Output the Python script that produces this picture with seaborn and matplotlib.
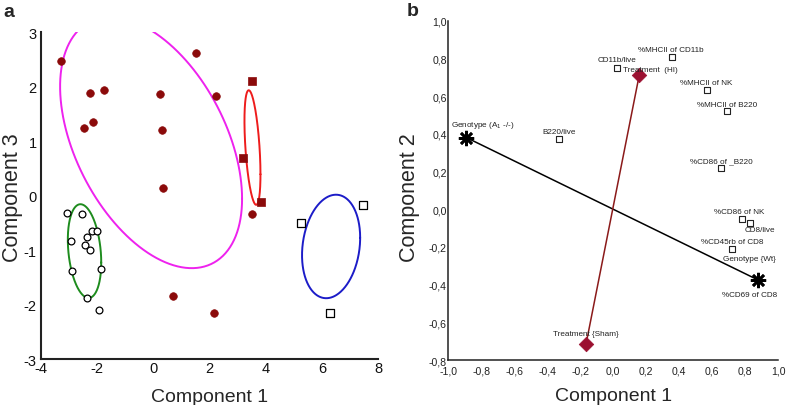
import numpy as np
import pandas as pd
import matplotlib
matplotlib.use("Agg")
import matplotlib.pyplot as plt
import seaborn as sns

# ---------------- DATA ----------------
# Panel a: scores (Component 1, Component 3)
red_circ_x = [-3.29, -2.26, -1.76, -2.47, -2.14, 0.23, 0.31, 0.35, 1.53, 2.22, 3.53, 0.71, 2.17]
red_circ_y = [2.47, 1.89, 1.94, 1.24, 1.34, 1.86, 1.21, 0.14, 2.62, 1.83, -0.34, -1.84, -2.15]
red_sq_x = [3.52, 3.21, 3.83]
red_sq_y = [2.10, 0.69, -0.12]
open_circ_x = [-3.06, -2.55, -2.94, -2.36, -2.20, -2.00, -2.43, -2.27, -2.90, -1.88, -2.36, -1.94]
open_circ_y = [-0.32, -0.34, -0.83, -0.76, -0.66, -0.65, -0.91, -1.00, -1.39, -1.35, -1.88, -2.10]
open_sq_x = [5.25, 7.47, 6.28]
open_sq_y = [-0.50, -0.17, -2.16]

# group ellipses: centre, conjugate half-axes
ell_cx = [-0.08, 3.53, -2.45, 6.33]
ell_cy = [0.97, 0.88, -1.02, -0.935]
ell_ux = [3.24, 0.285, 0.595, 1.035]
ell_uy = [-1.03, -0.49, -0.21, 0.16]
ell_h = [2.06, 0.93, 0.834, 0.936]

a_xticks = [-4, -2, 0, 2, 4, 6, 8]
a_yticks = [-3, -2, -1, 0, 1, 2, 3]

# Panel b: loadings (Component 1, Component 2)
var_names = ["CD11b/live", "%MHCII of CD11b", "%MHCII of NK", "%MHCII of B220", "B220/live",
             "%CD86 of _B220", "%CD86 of NK", "CD8/live", "%CD45rb of CD8", "%CD69 of CD8"]
var_x = [0.02, 0.354, 0.568, 0.689, -0.331, 0.653, 0.78, 0.828, 0.72, 0.879]
var_y = [0.749, 0.807, 0.634, 0.519, 0.371, 0.22, -0.053, -0.075, -0.211, -0.376]

geno_names = ["Genotype (A$_1$ -/-)", "Genotype {Wt}"]
geno_x = [-0.89, 0.879]
geno_y = [0.38, -0.376]

treat_names = ["Treatment  (HI)", "Treatment {Sham}"]
treat_x = [0.158, -0.165]
treat_y = [0.714, -0.715]

b_ticks_x = [-1.0, -0.8, -0.6, -0.4, -0.2, 0.0, 0.2, 0.4, 0.6, 0.8, 1.0]
b_ticks_y = [-0.8, -0.6, -0.4, -0.2, 0.0, 0.2, 0.4, 0.6, 0.8, 1.0]

# ---------------- STYLE ----------------
sns.set_style("white")
plt.rcParams["font.family"] = ["Liberation Sans", "DejaVu Sans"]
plt.rcParams["mathtext.fontset"] = "custom"
plt.rcParams["mathtext.rm"] = "Liberation Sans"
plt.rcParams["axes.unicode_minus"] = False

DARKRED = "#8b0a0a"
ell_colors = ["#ee22ee", "#ee1c1c", "#1e8c1e", "#1c1cc8"]

fig = plt.figure(figsize=(7.87, 4.06), dpi=100)

# ---------------- PANEL A ----------------
axa = fig.add_axes([0.0521, 0.1133, 0.4282, 0.8054])

t = np.linspace(0, 2 * np.pi, 400)
for cx, cy, ux, uy, h, c in zip(ell_cx, ell_cy, ell_ux, ell_uy, ell_h, ell_colors):
    ex = cx + ux * np.cos(t)
    ey = cy + uy * np.cos(t) + h * np.sin(t)
    axa.plot(ex, ey, color=c, lw=1.4, zorder=2)

sns.scatterplot(x=red_circ_x, y=red_circ_y, ax=axa, marker="o", s=30,
                color=DARKRED, edgecolor=DARKRED, linewidth=0.5, zorder=3)
sns.scatterplot(x=red_sq_x, y=red_sq_y, ax=axa, marker="s", s=30,
                color=DARKRED, edgecolor=DARKRED, linewidth=0.5, zorder=3)
sns.scatterplot(x=open_circ_x, y=open_circ_y, ax=axa, marker="o", s=24,
                facecolor="white", edgecolor="black", linewidth=0.9, zorder=3)
sns.scatterplot(x=open_sq_x, y=open_sq_y, ax=axa, marker="s", s=26,
                facecolor="white", edgecolor="black", linewidth=0.9, zorder=3)

axa.set_xlim(-4, 8)
axa.set_ylim(-3, 3)
axa.set_xticks(a_xticks)
axa.set_yticks(a_yticks)
axa.tick_params(axis="both", length=0, labelsize=10.5, colors="#111111")
axa.tick_params(axis="x", pad=1.5)
axa.tick_params(axis="y", pad=3)
for sp in ["top", "right"]:
    axa.spines[sp].set_visible(False)
for sp in ["left", "bottom"]:
    axa.spines[sp].set_linewidth(1.5)
    axa.spines[sp].set_color("#222222")
axa.set_xlabel("Component 1", fontsize=14, labelpad=9)
axa.set_ylabel("Component 3", fontsize=15.5)
axa.yaxis.set_label_coords(-0.052, 0.495)

# ---------------- PANEL B ----------------
axb = fig.add_axes([0.5696, 0.1108, 0.4193, 0.8357])

sns.lineplot(x=geno_x, y=geno_y, ax=axb, color="black", lw=1.1, zorder=2,
             sort=False, estimator=None)
sns.lineplot(x=treat_x, y=treat_y, ax=axb, color="#8b1a1a", lw=1.1, zorder=2,
             sort=False, estimator=None)

sns.scatterplot(x=var_x, y=var_y, ax=axb, marker="s", s=14,
                facecolor="white", edgecolor="#222222", linewidth=0.8, zorder=3)
sns.scatterplot(x=treat_x, y=treat_y, ax=axb, marker="D", s=55,
                color="#9b1030", edgecolor="#9b1030", linewidth=0.5, zorder=4)
axb.plot(geno_x, geno_y, linestyle="none", marker=(8, 2, 0), ms=11, mew=1.9,
         color="black", zorder=5)

lab_fs = 5.9
lab_col = "#222222"
var_off = {
    "CD11b/live": (0, 5.8),
    "%MHCII of CD11b": (-0.5, 5.3),
    "%MHCII of NK": (-0.5, 5.3),
    "%MHCII of B220": (0, 5.3),
    "B220/live": (0, 5.5),
    "%CD86 of _B220": (0, 5.3),
    "%CD86 of NK": (-2.2, 5.5),
    "CD8/live": (7.2, -4.6),
    "%CD45rb of CD8": (0, 5.3),
    "%CD69 of CD8": (-6.5, -10.6),
}
for n, x, y in zip(var_names, var_x, var_y):
    dx, dy = var_off[n]
    axb.annotate(n, (x, y), xytext=(dx, dy), textcoords="offset points",
                 ha="center", va="center", fontsize=lab_fs, color=lab_col)
geno_off = [(11.5, 9.1), (-6.5, 15.6)]
for n, x, y, (dx, dy) in zip(geno_names, geno_x, geno_y, geno_off):
    axb.annotate(n, (x, y), xytext=(dx, dy), textcoords="offset points",
                 ha="center", va="center", fontsize=lab_fs, color=lab_col)
treat_off = [(7.7, 3.9), (0, 7.7)]
for n, x, y, (dx, dy) in zip(treat_names, treat_x, treat_y, treat_off):
    axb.annotate(n, (x, y), xytext=(dx, dy), textcoords="offset points",
                 ha="center", va="center", fontsize=lab_fs, color=lab_col, zorder=6)

axb.set_xlim(-1.0, 1.0)
axb.set_ylim(-0.8, 1.0)
axb.set_xticks(b_ticks_x)
axb.set_yticks(b_ticks_y)
axb.set_xticklabels([f"{v:.1f}".replace(".", ",") for v in b_ticks_x])
axb.set_yticklabels([f"{v:.1f}".replace(".", ",") for v in b_ticks_y])
axb.tick_params(axis="both", length=0, labelsize=7.6, colors="#222222")
axb.tick_params(axis="x", pad=4)
axb.tick_params(axis="y", pad=1)
for sp in ["top", "right"]:
    axb.spines[sp].set_visible(False)
for sp in ["left", "bottom"]:
    axb.spines[sp].set_linewidth(1.1)
    axb.spines[sp].set_color("#222222")
axb.set_xlabel("Component 1", fontsize=14, labelpad=8)
axb.set_ylabel("Component 2", fontsize=15.5)
axb.yaxis.set_label_coords(-0.086, 0.483)

fig.text(0.004, 0.959, "a", fontsize=14, fontweight="bold", va="baseline")
fig.text(0.517, 0.961, "b", fontsize=14, fontweight="bold", va="baseline")

fig.savefig("out.png", dpi=100)
